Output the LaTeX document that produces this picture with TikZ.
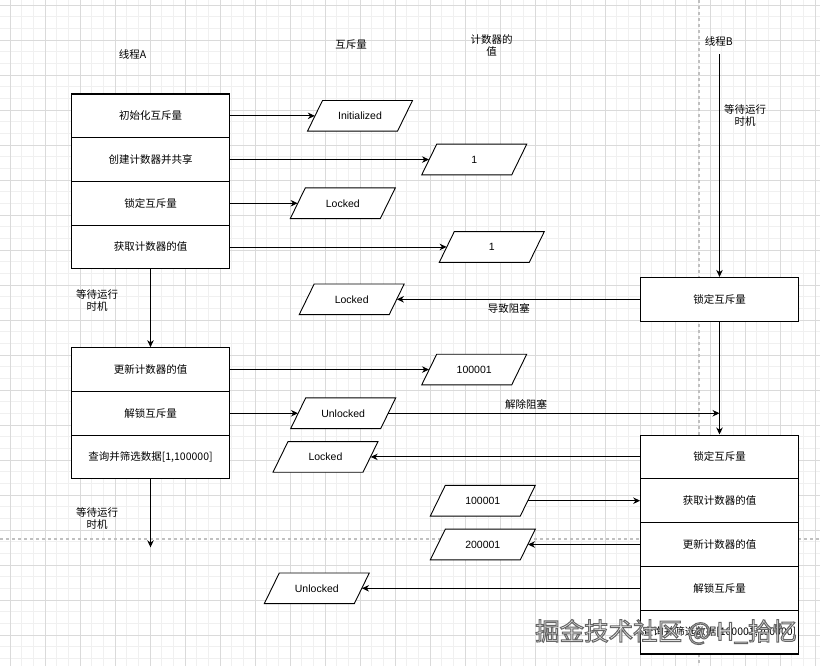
\documentclass[tikz,border=0pt]{standalone}
\usepackage{fontspec}
\setmainfont{Liberation Sans}
\newfontfamily\cjk{Noto Sans CJK SC}
\usetikzlibrary{arrows.meta}
\definecolor{gridminor}{HTML}{F0F0F0}
\definecolor{gridmajor}{HTML}{DADADA}
\definecolor{pagebreak}{HTML}{C0C0C0}
\definecolor{wmfill}{HTML}{F4F4F4}
\tikzset{
  row/.style={draw=black, line width=1.1pt, fill=white, minimum width=157.6pt,
    minimum height=43.7pt, inner sep=0pt, font=\cjk\fontsize{10.5}{12}\selectfont},
  lbl/.style={align=center, inner sep=0pt, font=\cjk\fontsize{10.5}{12}\selectfont},
  paratext/.style={minimum width=90pt, minimum height=30.7pt, inner sep=0pt,
    font=\fontsize{10.5}{12}\selectfont},
  parashape/.style={draw=black, line width=0.9pt, fill=white},
  conn/.style={line width=0.9pt, -{Stealth[length=7pt,width=6.5pt]}},
  wm/.style={inner sep=0pt, font=\cjk\fontsize{24.5}{26}\selectfont},
}
\newcommand\paranode[4]{%
  \path[parashape] (#2-52.5,#3+15.35) -- (#2-37.5,#3-15.35) -- (#2+52.5,#3-15.35)
    -- (#2+37.5,#3+15.35) -- cycle;
  \node[paratext] (#1) at (#2,#3) {#4};}
\begin{document}
\begin{tikzpicture}[x=1pt,y=-1pt]
\useasboundingbox[fill=white] (0,0) rectangle (820,666);
% grid
\foreach \i in {0,...,71} {
  \draw[gridminor, line width=0.6pt] ({-1.667+\i*35/3},0) -- ({-1.667+\i*35/3},666);
}
\foreach \i in {0,...,58} {
  \draw[gridminor, line width=0.6pt] (0,{-6.667+\i*35/3}) -- (820,{-6.667+\i*35/3});
}
\foreach \i in {0,...,23} {
  \draw[gridmajor, line width=0.7pt] ({10+\i*35},0) -- ({10+\i*35},666);
}
\foreach \i in {0,...,19} {
  \draw[gridmajor, line width=0.7pt] (0,{5+\i*35}) -- (820,{5+\i*35});
}
% page breaks
\draw[pagebreak, line width=1.2pt, dash pattern=on 3pt off 3pt] (699,0) -- (699,666);
\draw[pagebreak, line width=1.2pt, dash pattern=on 3pt off 3pt] (0,539) -- (820,539);

% headers
\node[lbl] (tA) at (132.5,54) {线程A};
\node[lbl] (tM) at (351,45) {互斥量};
\node[lbl] (tC) at (491.7,45) {计数器的\\值};
\node[lbl] (tB) at (718.8,41.7) {线程B};

% thread A
\node[row] (a1) at (150.5,115.85) {初始化互斥量};
\node[row] (a2) at (150.5,159.55) {创建计数器并共享};
\node[row] (a3) at (150.5,203.25) {锁定互斥量};
\node[row] (a4) at (150.5,246.95) {获取计数器的值};
\node[row] (a5) at (150.5,369.55) {更新计数器的值};
\node[row] (a6) at (150.5,413.25) {解锁互斥量};
\node[row] (a7) at (150.5,456.95) {查询并筛选数据[1,100000]};

% thread B
\node[row] (b1) at (719.5,299.3) {锁定互斥量};
\node[row] (b2) at (719.5,456.9) {锁定互斥量};
\node[row] (b3) at (719.5,500.7) {获取计数器的值};
\node[row] (b4) at (719.5,544.5) {更新计数器的值};
\node[row] (b5) at (719.5,588.3) {解锁互斥量};
\node[row] (b6) at (719.5,632.1) {查询并筛选数据[100001,200000]};

% values
\paranode{p1}{360}{115.85}{Initialized}
\paranode{p2}{474.2}{159.55}{1}
\paranode{p3}{342.8}{203.25}{Locked}
\paranode{p4}{491.8}{246.95}{1}
\paranode{p5}{351.7}{299.3}{Locked}
\paranode{p6}{474.2}{369.55}{100001}
\paranode{p7}{343.2}{413.25}{Unlocked}
\paranode{p8}{325.5}{456.9}{Locked}
\paranode{p9}{482.8}{500.7}{100001}
\paranode{p10}{482.8}{544.5}{200001}
\paranode{p11}{316.8}{588.3}{Unlocked}

% waiting labels
\node[lbl] (wA1) at (97,300) {等待运行\\时机};
\node[lbl] (wA2) at (97,518) {等待运行\\时机};
\node[lbl] (wB) at (745,115) {等待运行\\时机};
\node[lbl] (blk) at (508.8,308.3) {导致阻塞};
\node[lbl] (ublk) at (526,404) {解除阻塞};

% connectors
\coordinate (bstart) at (719.5,54.3);
\coordinate (aend) at (150.5,547.3);
\coordinate (ub) at (719.5,413.25);
\draw[conn] (bstart) -- (b1.north);
\draw[conn] (b1.south) -- (b2.north);
\draw[conn] (a4.south) -- (a5.north);
\draw[conn] (a7.south) -- (aend);
\draw[conn] (a1.east) -- (p1.west);
\draw[conn] (a2.east) -- (p2.west);
\draw[conn] (a3.east) -- (p3.west);
\draw[conn] (a4.east) -- (p4.west);
\draw[conn] (b1.west) -- (p5.east);
\draw[conn] (a5.east) -- (p6.west);
\draw[conn] (a6.east) -- (p7.west);
\draw[conn] (p7.east) -- (ub);
\draw[conn] (b2.west) -- (p8.east);
\draw[conn] (p9.east) -- (b3.west);
\draw[conn] (b4.west) -- (p10.east);
\draw[conn] (b5.west) -- (p11.east);

% watermark (filled, outlined text)
\node[wm] (wmark) at (666,632) {\color{wmfill}\special{pdf:literal direct 2 Tr 1 w 0.4 0.4 0.4 RG}掘金技术社区 @ H\_拾忆\special{pdf:literal direct 0 Tr}};
\end{tikzpicture}
\end{document}
